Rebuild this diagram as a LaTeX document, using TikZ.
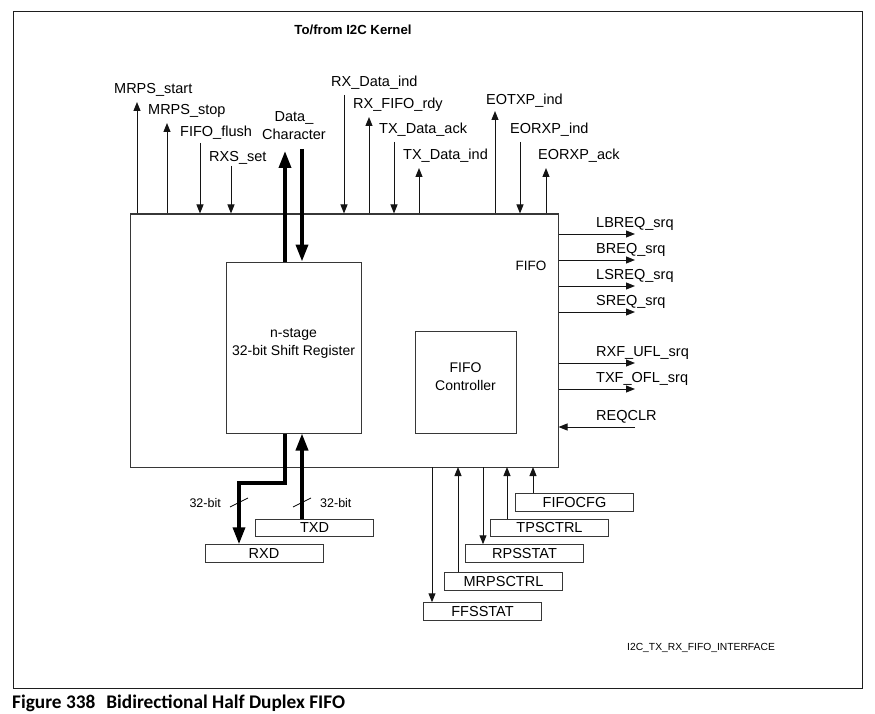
\documentclass[tikz,border=0pt]{standalone}
\usepackage{fontspec}
\setmainfont{Liberation Sans}
\newfontfamily\capfont{Carlito}
\usetikzlibrary{arrows.meta, positioning, fit}
\definecolor{frameline}{RGB}{30,30,30}
\definecolor{boxline}{RGB}{55,55,55}
\definecolor{sigline}{RGB}{20,20,20}
\tikzset{
  block/.style={
    draw=boxline,
    line width=1pt,
    inner sep=0pt,
    align=center,
    font=\fontsize{14}{18}\selectfont
  },
  regbox/.style={
    draw=boxline,
    line width=1pt,
    minimum width=118pt,
    minimum height=17.5pt,
    inner sep=0pt,
    font=\fontsize{14.5}{16}\selectfont
  },
  sig/.style={line width=1pt, draw=sigline, -{Triangle[length=9pt,width=7pt]}},
  bus/.style={line width=3.5pt, draw=black, -{Triangle[length=17pt,width=12pt]}},
  siglabel/.style={anchor=base west, inner sep=0pt, font=\fontsize{14.5}{18}\selectfont},
  buslabel/.style={inner sep=0pt, font=\fontsize{12.5}{14}\selectfont}
}

\begin{document}
\begin{tikzpicture}[x=1pt,y=-1pt]
    \useasboundingbox (0,0) rectangle (875,714);
    \draw[frameline, line width=1pt] (13,12) rectangle (862,688);
    \node[anchor=base, inner sep=0pt, font=\bfseries\fontsize{13.2}{15}\selectfont] (kernel) at (353,35) {To/from I2C Kernel};

    % FIFO block and its two inner blocks
    \node[block, fit={(130,214) (558,467)}] (fifo) {};
    \node[block, fit={(226,262) (361,433)}] (sreg) {n-stage\\32-bit Shift Register};
    \node[block, fit={(415,331) (516,433)}] (ctrl) {FIFO\\Controller};
    \node[anchor=base, inner sep=0pt, font=\fontsize{13.5}{16}\selectfont] (fifolbl) at (531,270) {FIFO};

    % signals to/from the kernel
    \coordinate (mrpsstart) at (137,102);
    \coordinate (mrpsstop) at (167,123);
    \coordinate (fifoflush) at (200,143);
    \coordinate (rxsset) at (231,166);
    \coordinate (rxdataind) at (344,95);
    \coordinate (rxfifordy) at (369,117);
    \coordinate (txdataack) at (394,142);
    \coordinate (txdataind) at (419,168);
    \coordinate (eotxpind) at (495,111);
    \coordinate (eorxpind) at (520,142);
    \coordinate (eorxpack) at (546,168);
    \draw[sig] (mrpsstart |- fifo.north) -- (mrpsstart);
    \draw[sig] (mrpsstop |- fifo.north) -- (mrpsstop);
    \draw[sig] (fifoflush) -- (fifoflush |- fifo.north);
    \draw[sig] (rxsset) -- (rxsset |- fifo.north);
    \draw[sig] (rxdataind) -- (rxdataind |- fifo.north);
    \draw[sig] (rxfifordy |- fifo.north) -- (rxfifordy);
    \draw[sig] (txdataack) -- (txdataack |- fifo.north);
    \draw[sig] (txdataind |- fifo.north) -- (txdataind);
    \draw[sig] (eotxpind |- fifo.north) -- (eotxpind);
    \draw[sig] (eorxpind) -- (eorxpind |- fifo.north);
    \draw[sig] (eorxpack |- fifo.north) -- (eorxpack);

    \node[siglabel] at (114,94) {MRPS\_start};
    \node[siglabel] at (148,115) {MRPS\_stop};
    \node[siglabel] at (180,137) {FIFO\_flush};
    \node[siglabel] at (209,162) {RXS\_set};
    \node[siglabel] at (331,87) {RX\_Data\_ind};
    \node[siglabel] at (353,109) {RX\_FIFO\_rdy};
    \node[siglabel] at (379,134) {TX\_Data\_ack};
    \node[siglabel] at (403,160) {TX\_Data\_ind};
    \node[siglabel] at (486,105) {EOTXP\_ind};
    \node[siglabel] at (510,134) {EORXP\_ind};
    \node[siglabel] at (538,160) {EORXP\_ack};

    % data character bus
    \coordinate (dcup) at (285,151);
    \coordinate (dcdown) at (302,149);
    \draw[bus] (sreg.north -| dcup) -- (dcup);
    \draw[bus] (dcdown) -- (sreg.north -| dcdown);
    \node[align=center, inner sep=0pt, font=\fontsize{14.5}{18}\selectfont] (dclbl) at (294,126) {Data\_\\Character};

    % service requests
    \coordinate (lbreq) at (635,234);
    \coordinate (breq) at (635,260);
    \coordinate (lsreq) at (635,286);
    \coordinate (sreq) at (635,312);
    \coordinate (rxfufl) at (635,363);
    \coordinate (txfofl) at (635,389);
    \coordinate (reqclr) at (635,427);
    \draw[sig] (lbreq -| fifo.east) -- (lbreq);
    \draw[sig] (breq -| fifo.east) -- (breq);
    \draw[sig] (lsreq -| fifo.east) -- (lsreq);
    \draw[sig] (sreq -| fifo.east) -- (sreq);
    \draw[sig] (rxfufl -| fifo.east) -- (rxfufl);
    \draw[sig] (txfofl -| fifo.east) -- (txfofl);
    \draw[sig] (reqclr) -- (reqclr -| fifo.east);

    \node[siglabel] at (596,227) {LBREQ\_srq};
    \node[siglabel] at (596,253) {BREQ\_srq};
    \node[siglabel] at (596,279) {LSREQ\_srq};
    \node[siglabel] at (596,305) {SREQ\_srq};
    \node[siglabel] at (596,356) {RXF\_UFL\_srq};
    \node[siglabel] at (596,382) {TXF\_OFL\_srq};
    \node[siglabel] at (596,420) {REQCLR};

    % TXD / RXD
    \node[regbox] (txd) at (314.5,528) {TXD};
    \node[regbox] (rxd) at (264,553.5) {RXD};
    \coordinate (rxdturn) at (239,483);
    \draw[bus] (sreg.south -| dcup) |- (rxdturn) -- (rxdturn |- rxd.north);
    \draw[bus] (txd.north -| dcdown) -- (sreg.south -| dcdown);
    \draw[line width=0.8pt] (230,507) -- (248,498);
    \draw[line width=0.8pt] (293,507) -- (311,498);
    \node[buslabel, anchor=base east] at (221,507) {32-bit};
    \node[buslabel, anchor=base west] at (320,507) {32-bit};

    % registers
    \node[regbox] (fifocfg) at (574.5,502.5) {FIFOCFG};
    \node[regbox] (tpsctrl) at (549.5,528) {TPSCTRL};
    \node[regbox] (rpsstat) at (524.5,553.5) {RPSSTAT};
    \node[regbox] (mrpsctrl) at (503.5,581.5) {MRPSCTRL};
    \node[regbox] (ffsstat) at (482.5,611.5) {FFSSTAT};
    \coordinate (ffsout) at (432,467);
    \coordinate (mrpsin) at (458,467);
    \coordinate (rpsout) at (483,467);
    \coordinate (tpsin) at (507,467);
    \coordinate (cfgin) at (533,467);
    \draw[sig] (ffsout) -- (ffsout |- ffsstat.north);
    \draw[sig] (mrpsin |- mrpsctrl.north) -- (mrpsin);
    \draw[sig] (rpsout) -- (rpsout |- rpsstat.north);
    \draw[sig] (tpsin |- tpsctrl.north) -- (tpsin);
    \draw[sig] (cfgin |- fifocfg.north) -- (cfgin);

    \node[anchor=base west, inner sep=0pt, font=\fontsize{10.3}{12}\selectfont] (figid) at (627,650) {I2C\_TX\_RX\_FIFO\_INTERFACE};
    \node[anchor=base west, inner sep=0pt, font=\capfont\bfseries\fontsize{19.3}{21}\selectfont] (caption) at (12,708) {Figure 338\hspace{11pt}Bidirectional Half Duplex FIFO};
  \end{tikzpicture}
\end{document}
